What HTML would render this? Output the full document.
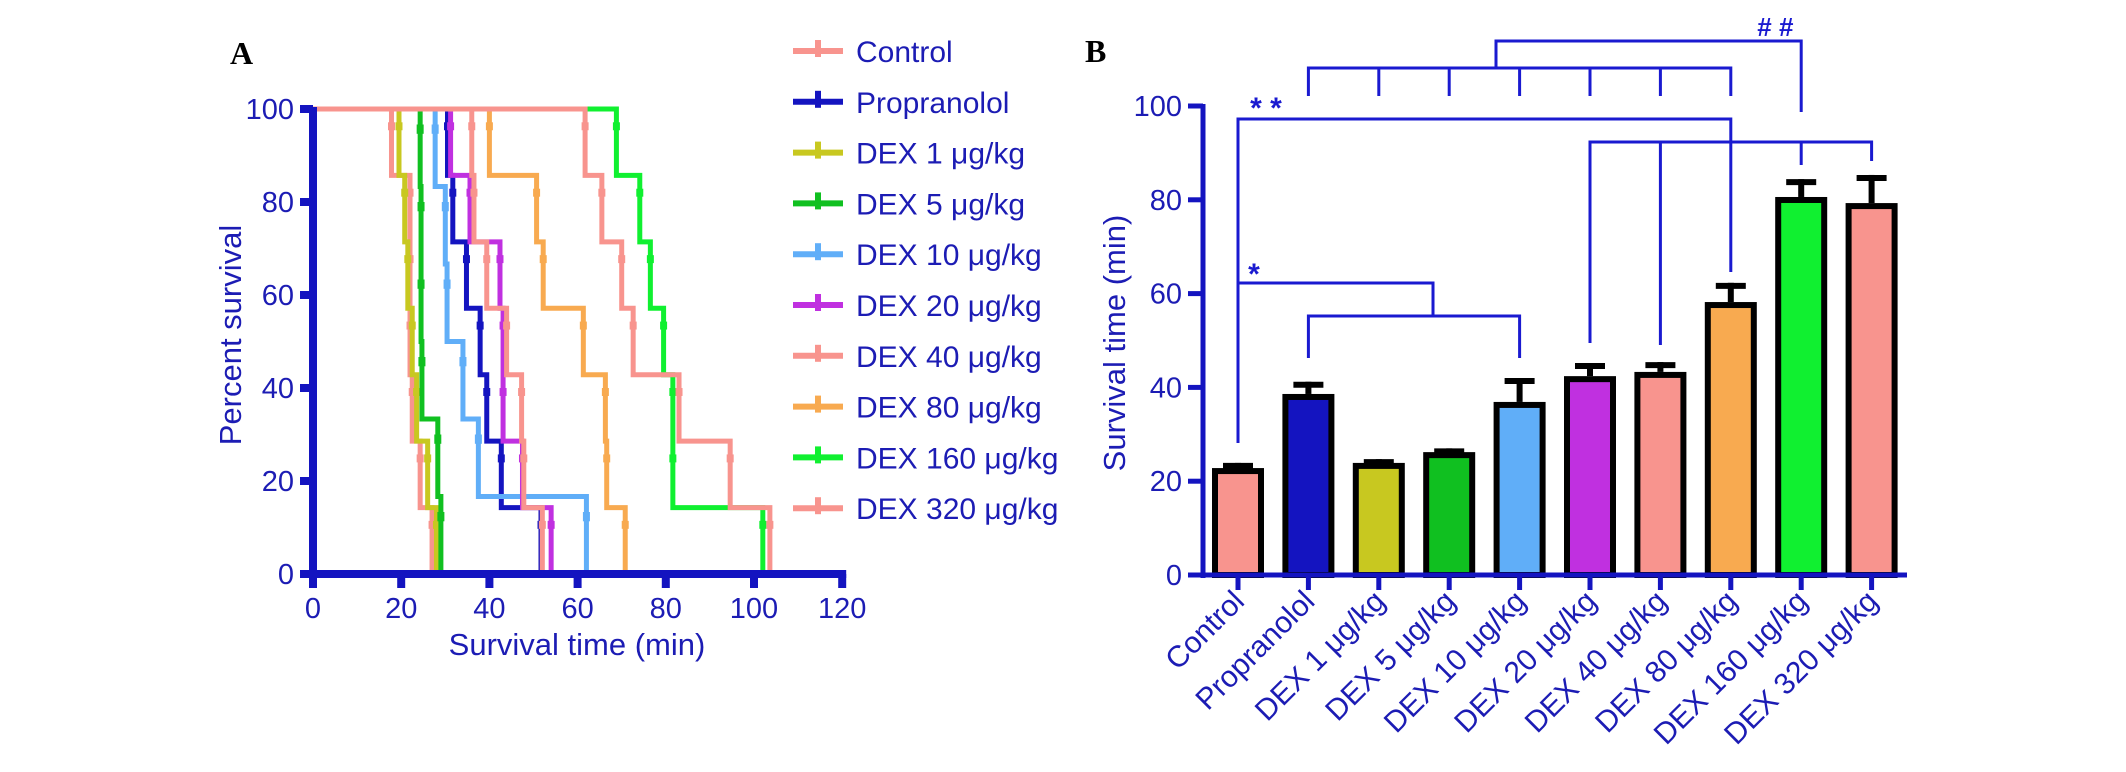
<!DOCTYPE html>
<html><head><meta charset="utf-8"><style>
html,body{margin:0;padding:0;background:#fff;}
svg{display:block;font-family:"Liberation Sans",Arial,sans-serif;}
</style></head><body>
<svg id="fig" width="2126" height="772" viewBox="0 0 2126 772">
<text x="230" y="64" font-family="Liberation Serif" font-weight="bold" font-size="32" fill="#000">A</text>
<text x="1085" y="62" font-family="Liberation Serif" font-weight="bold" font-size="32" fill="#000">B</text>
<g id="pa"></g>
<g id="leg"></g>
<g id="pb"></g>
</svg>
<script>
const groups = ["Control","Propranolol","DEX 1 μg/kg","DEX 5 μg/kg","DEX 10 μg/kg","DEX 20 μg/kg","DEX 40 μg/kg","DEX 80 μg/kg","DEX 160 μg/kg","DEX 320 μg/kg"];
const colors = ["#f8948e","#1414c0","#c8c820","#10c020","#60aef8","#c030e0","#f8948e","#f8aa50","#10f030","#f8948e"];
// Panel A: death times (min) per group
const kmControl = [17.8,22,22,22,22.5,24.3,27];
const kmPropranolol = [30.5,31.7,34.8,37.9,39.4,42.7,51.7];
const kmDex1 = [19.5,20.8,21.5,22.5,23.5,26,28];
const kmDex5 = [24.3,24.5,24.5,24.7,28.3,29];
const kmDex10 = [27.7,30,30.4,34,37.5,62];
const kmDex20 = [31.2,35.6,42.4,43.1,43.1,47.5,54];
const kmDex40 = [36,36.5,39.4,43.9,47.3,47.8,52];
const kmDex80 = [40,50.7,52.2,61.3,66.3,66.6,70.8];
const kmDex160 = [68.8,74.1,76.5,79.5,81.6,81.6,102];
const kmDex320 = [61.7,65.5,70,72.6,83,94.6,103.6];
const kmSeries = [kmControl,kmPropranolol,kmDex1,kmDex5,kmDex10,kmDex20,kmDex40,kmDex80,kmDex160,kmDex320];
const aXTicks = [0,20,40,60,80,100,120];
const aYTicks = [0,20,40,60,80,100];
// Panel B: mean survival and SEM
const barMeans = [22.8,38.6,23.9,26.2,36.9,42.4,43.3,58.2,80.6,79.3];
const barErrors = [1.1,2.6,0.8,0.8,5.1,2.8,2.1,4.1,3.8,6.0];
const bYTicks = [0,20,40,60,80,100];

const NS="http://www.w3.org/2000/svg";
function el(tag, attrs, parent, txt){const e=document.createElementNS(NS,tag);for(const k in attrs)e.setAttribute(k,attrs[k]);if(txt!==undefined)e.textContent=txt;parent.appendChild(e);return e;}
const TC="#1c1cb4", AC="#1414c0";

// ---- Panel A
const pa=document.getElementById('pa');
const ax=t=>313+4.41*t, ay=p=>574-4.65*p;
kmSeries.forEach((times,i)=>{
  const n=times.length; const s=[...times].sort((a,b)=>a-b);
  let d=`M${ax(0)},${ay(100)}`; let p=100;
  s.forEach((t,k)=>{ d+=` H${ax(t)}`; p=100*(n-k-1)/n; d+=` V${ay(p)}`; });
  const path=el('path',{d:d,fill:'none',stroke:colors[i],'stroke-width':5,'stroke-linejoin':'miter'},pa);
  
  
  let prev=100;
  s.forEach((t,k)=>{ const q=100*(n-k-1)/n; const m=el('line',{x1:ax(t),x2:ax(t),y1:ay(prev)+ (ay(q)-ay(prev))*0.2,y2:ay(prev)+(ay(q)-ay(prev))*0.32,stroke:colors[i],'stroke-width':7},pa);
    
    
    prev=q;});
});
const ayl=el('line',{x1:313,x2:313,y1:ay(100)-2,y2:ay(0)+4,stroke:AC,'stroke-width':8},pa);

const axl=el('line',{x1:309,x2:ax(120)+4,y1:ay(0),y2:ay(0),stroke:AC,'stroke-width':8},pa);

aYTicks.forEach(v=>{el('line',{x1:300,x2:313,y1:ay(v),y2:ay(v),stroke:AC,'stroke-width':8},pa);
  const t=el('text',{x:294,y:ay(v)+10,'text-anchor':'end','font-size':29,fill:TC},pa,String(v));
  });
aXTicks.forEach(v=>{el('line',{x1:ax(v),x2:ax(v),y1:ay(0),y2:ay(0)+14,stroke:AC,'stroke-width':8},pa);
  const t=el('text',{x:ax(v),y:618,'text-anchor':'middle','font-size':29,fill:TC},pa,String(v));
  });
const axt=el('text',{x:577,y:655,'text-anchor':'middle','font-size':31,fill:TC},pa,'Survival time (min)');

const ayt=el('text',{x:0,y:0,'text-anchor':'middle','font-size':31,fill:TC,transform:'translate(241,335) rotate(-90)'},pa,'Percent survival');


// ---- Legend
const leg=document.getElementById('leg');
groups.forEach((g,i)=>{const y=51+50.8*i;
  const gg=el('g',{},leg);
  
  
  el('line',{x1:793,x2:843,y1:y,y2:y,stroke:colors[i],'stroke-width':6},gg);
  el('line',{x1:818,x2:818,y1:y-11,y2:y+6,stroke:colors[i],'stroke-width':6},gg);
  el('text',{x:856,y:y+11,'font-size':30,fill:TC},gg,g);});

// ---- Panel B
const pb=document.getElementById('pb');
const bx=i=>1238+70.4*i, by=v=>575-4.69*v;
barMeans.forEach((m,i)=>{
  const e=el('line',{x1:bx(i),x2:bx(i),y1:by(m),y2:by(m+barErrors[i]),stroke:'#000','stroke-width':6},pb);
  
  const c=el('line',{x1:bx(i)-15,x2:bx(i)+15,y1:by(m+barErrors[i])+3,y2:by(m+barErrors[i])+3,stroke:'#000','stroke-width':6},pb);
  
  const r=el('rect',{x:bx(i)-23,y:by(m)+3,width:46,height:by(0)-by(m)-3,fill:colors[i],stroke:'#000','stroke-width':6},pb);
  
});
const byl=el('line',{x1:1203,x2:1203,y1:by(100)-2,y2:by(0)+3,stroke:AC,'stroke-width':5},pb);

const bxl=el('line',{x1:1188,x2:1907,y1:by(0),y2:by(0),stroke:AC,'stroke-width':5},pb);

bYTicks.forEach(v=>{el('line',{x1:1188,x2:1203,y1:by(v),y2:by(v),stroke:AC,'stroke-width':5},pb);
  const t=el('text',{x:1182,y:by(v)+10,'text-anchor':'end','font-size':29,fill:TC},pb,String(v));
  });
groups.forEach((g,i)=>{el('line',{x1:bx(i),x2:bx(i),y1:by(0),y2:by(0)+15,stroke:AC,'stroke-width':5},pb);
  const t=el('text',{x:0,y:0,'text-anchor':'end','font-size':30,fill:TC,transform:`translate(${bx(i)+8},${603}) rotate(-45)`},pb,g);
  });
const byt=el('text',{x:0,y:0,'text-anchor':'middle','font-size':31,fill:TC,transform:'translate(1125,343) rotate(-90)'},pb,'Survival time (min)');


const S="#1a1ad0";
function pl(pts,name){const p=el('polyline',{points:pts.map(q=>q.join(',')).join(' '),fill:'none',stroke:S,'stroke-width':3},pb);
  }
pl([[bx(0),443],[bx(0),119],[bx(7),119],[bx(7),272]],'sig-bracket-control-dex80');
pl([[bx(0),283],[bx(2.77),283],[bx(2.77),316]],'sig-bracket-control-group');
pl([[bx(1),358],[bx(1),316],[bx(4),316],[bx(4),358]],'sig-bracket-prop-dex10');
pl([[bx(5),343],[bx(5),142],[bx(9),142],[bx(9),161]],'sig-bracket-high-doses');
pl([[bx(6),142],[bx(6),345]],'sig-tick-dex40');
pl([[bx(8),142],[bx(8),165]],'sig-tick-dex160');
pl([[bx(1),96],[bx(1),68],[bx(7),68],[bx(7),96]],'sig-bracket-group');
[2,3,4,5,6].forEach(i=>pl([[bx(i),68],[bx(i),96]],'sig-tick'));
pl([[1496,68],[1496,41],[bx(8),41],[bx(8),112]],'sig-bracket-hash');
const s1=el('text',{x:1266,y:118,'text-anchor':'middle','font-size':30,'font-weight':'bold',fill:S},pb,'* *');

const s2=el('text',{x:1254,y:284,'text-anchor':'middle','font-size':30,'font-weight':'bold',fill:S},pb,'*');

const s3=el('text',{x:1775,y:36,'text-anchor':'middle','font-size':26,'font-weight':'bold','font-style':'italic',fill:S},pb,'# #');

</script>
</body></html>
